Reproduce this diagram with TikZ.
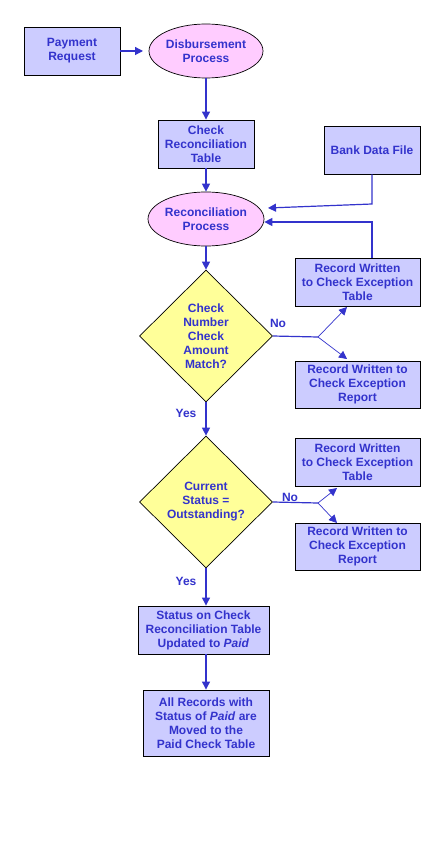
\documentclass[tikz,border=0pt]{standalone}
\usepackage{fontspec}
\setmainfont{Liberation Sans}
\usetikzlibrary{shapes.geometric,arrows.meta}
\definecolor{txtblue}{HTML}{3333CC}
\definecolor{boxfill}{HTML}{CCCCFF}
\definecolor{pinkfill}{HTML}{FFCCFF}
\definecolor{yelfill}{HTML}{FFFF99}
\tikzset{
  lbl/.style={font=\fontsize{12}{14}\selectfont\bfseries, text=txtblue, align=center},
  databox/.style={lbl, draw=black, line width=0.9pt, fill=boxfill, rectangle, inner sep=0pt},
  procell/.style={lbl, draw=black, line width=0.7pt, fill=pinkfill, ellipse, inner sep=0pt, minimum width=114pt, minimum height=54pt},
  decide/.style={lbl, draw=black, line width=0.7pt, fill=yelfill, diamond, inner sep=0pt, minimum width=133pt, minimum height=132pt},
  flow/.style={draw=txtblue, line width=1.2pt, -{Triangle[length=8pt,width=8pt]}},
  thinflow/.style={draw=txtblue, line width=0.7pt, -{Triangle[length=8pt,width=8pt]}},
  plain/.style={draw=txtblue, line width=1.2pt},
  yn/.style={lbl}
}
\begin{document}
\begin{tikzpicture}[x=1pt,y=-1pt]
\useasboundingbox[fill=white] (0,0) rectangle (432,864);
\node[databox, minimum width=96pt, minimum height=48pt] (pr) at (72,51) {Payment\\Request};
\node[procell] (dp) at (206,51) {Disbursement\\Process};
\node[databox, minimum width=96pt, minimum height=48pt] (crt) at (206,144) {Check\\Reconciliation\\Table};
\node[databox, minimum width=96pt, minimum height=48pt] (bdf) at (372,150) {Bank Data File};
\node[procell] (rp) at (206,219) {Reconciliation\\Process};
\node[decide] (d1) at (206,336) {Check\\Number\\Check\\Amount\\Match?};
\node[databox, minimum width=125pt, minimum height=48pt] (t1) at (357.5,282) {Record Written\\to Check Exception\\Table};
\node[databox, minimum width=125pt, minimum height=47pt] (r1) at (357.5,384.5) {Record Written to\\Check Exception\\Report};
\node[decide] (d2) at (206,502) {Current\\Status =\\Outstanding?};
\node[databox, minimum width=125pt, minimum height=48pt] (t2) at (357.5,462) {Record Written\\to Check Exception\\Table};
\node[databox, minimum width=125pt, minimum height=47pt] (r2) at (357.5,546.5) {Record Written to\\Check Exception\\Report};
\node[databox, minimum width=131pt, minimum height=48pt] (st) at (203.5,630) {Status on Check\\Reconciliation Table\\Updated to \textit{Paid}};
\node[databox, minimum width=126pt, minimum height=66pt] (ar) at (206,723) {All Records with\\Status of \textit{Paid} are\\Moved to the\\Paid Check Table};
% labels
\node[yn] (no1) at (278,323) {No};
\node[yn] (yes1) at (186,413) {Yes};
\node[yn] (no2) at (290,497) {No};
\node[yn] (yes2) at (186,581) {Yes};
% coordinates
\coordinate (pe) at (143,51);
\coordinate (bk1) at (372,204);
\coordinate (bk2) at (268,208);
\coordinate (ex1) at (372,222);
\coordinate (b1) at (318,337);
\coordinate (b1t) at (347,307);
\coordinate (b1r) at (347,359);
\coordinate (b2) at (318,503);
\coordinate (b2t) at (337,488);
\coordinate (b2r) at (337,523);
% connectors
\draw[flow] (pr.east) -- (pe);
\draw[flow] (dp.south) -- (crt.north);
\draw[flow] (crt.south) -- (rp.north);
\draw[flow] (bdf.south) -- (bk1) -- (bk2);
\draw[flow] (t1.north -| bdf.south) -- (ex1) -- (ex1 -| rp.east);
\draw[flow] (rp.south) -- (d1.north);
\draw[plain] (d1.east) -- (b1);
\draw[thinflow] (b1) -- (b1t);
\draw[thinflow] (b1) -- (b1r);
\draw[flow] (d1.south) -- (d2.north);
\draw[plain] (d2.east) -- (b2);
\draw[thinflow] (b2) -- (b2t);
\draw[thinflow] (b2) -- (b2r);
\draw[flow] (d2.south) -- (d2.south |- st.north);
\draw[flow] (d2.south |- st.south) -- (d2.south |- ar.north);
\end{tikzpicture}
\end{document}
